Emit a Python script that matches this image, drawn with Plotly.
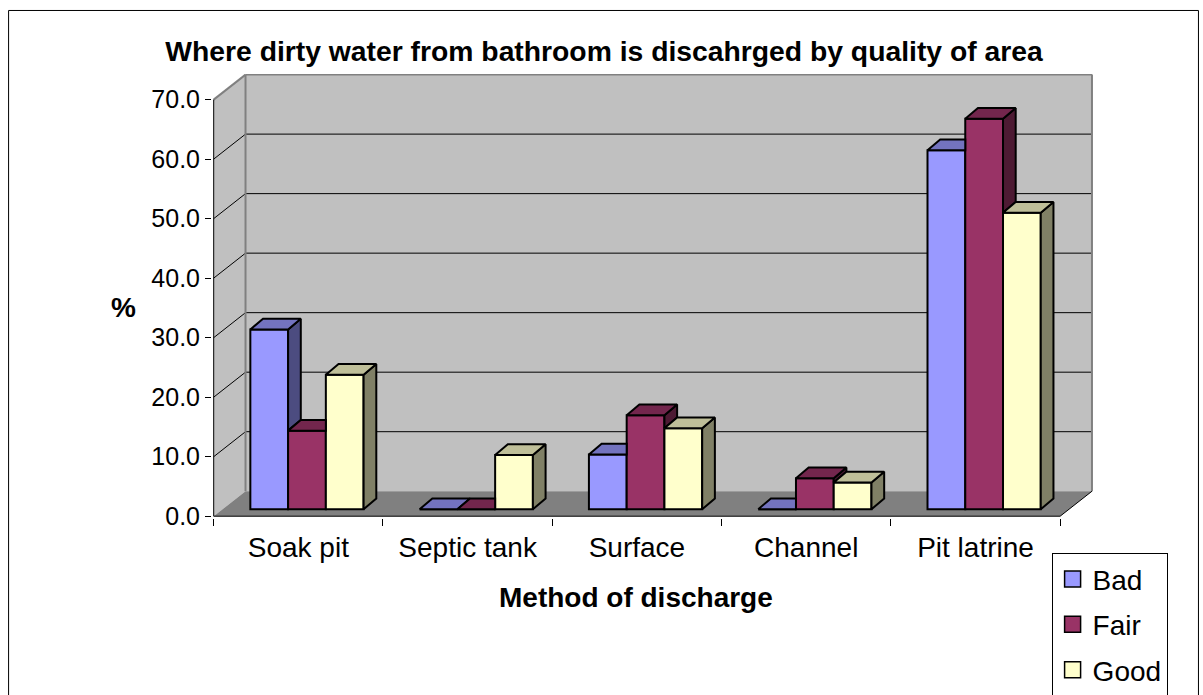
import plotly.graph_objects as go

# ---------------- data ----------------
categories = ["Soak pit", "Septic tank", "Surface", "Channel", "Pit latrine"]
series_names = ["Bad", "Fair", "Good"]
bad = [30.2, 0.0, 9.2, 0.0, 60.3]
fair = [13.2, 0.0, 15.8, 5.2, 65.6]
good = [22.6, 9.1, 13.6, 4.5, 49.8]
y_ticks = [0, 10, 20, 30, 40, 50, 60, 70]
y_tick_labels = ["0.0", "10.0", "20.0", "30.0", "40.0", "50.0", "60.0", "70.0"]

title_text = "Where dirty water from bathroom is discahrged by quality of area"
x_title = "Method of discharge"
y_title = "%"

# ---------------- style ----------------
FRONT = ["#9999FF", "#993366", "#FFFFCC"]
TOP = ["#7373BF", "#73264D", "#BFBF99"]
SIDE = ["#4C4C80", "#4D1A33", "#808066"]
WALL = "#C0C0C0"
FLOOR = "#808080"
EDGE = "#808080"
FONT = "Liberation Sans, Arial, sans-serif"

W, H = 1203, 695
X0, X1 = -0.51, 4.70
Y0, Y1 = -0.3, 74.3
PXX = 169.45          # px per category
PXY = 5.943           # px per percent
L = 213.3 - (-0.5 - X0) * PXX
plot_w = (X1 - X0) * PXX
R = W - L - plot_w
BOT = 516 + (0 - Y0) * PXY
plot_h = (Y1 - Y0) * PXY
B = H - BOT
T = BOT - plot_h

def px_x(p):
    return (p - L) / plot_w

def px_y(p):
    return (BOT - p) / plot_h

# depth of the 3D box (walls) and of the bars
DX, DY = 0.188, 4.2
BDX, BDY = 0.075, 1.8
F0X, F0Y = 0.051, 1.18
BW = 0.223

series = [bad, fair, good]
ncat = len(categories)
xl_edge, xr_edge = -0.5, ncat - 0.5
ymax = y_ticks[-1]

fig = go.Figure()

# front faces: real bars
for k, vals in enumerate(series):
    fig.add_trace(go.Bar(
        x=[i + F0X + (k - 1) * BW for i in range(ncat)],
        y=vals, base=F0Y, width=BW, name=series_names[k],
        marker=dict(color=FRONT[k], line=dict(color="black", width=2)),
        showlegend=False, hovertext=categories,
    ))

# top and side faces computed from the values
for k, vals in enumerate(series):
    tx, ty, sx, sy = [], [], [], []
    for i in range(ncat):
        h = vals[i]
        xc = i + F0X + (k - 1) * BW
        xl, xr = xc - BW / 2, xc + BW / 2
        b = F0Y
        t = b + h
        nxt = series[k + 1][i] if k < 2 else None
        if nxt is not None and b + nxt > t:
            tn = b + nxt
            if tn >= t + BDY:
                poly = [(xl, t), (xr, t), (xr, t + BDY), (xl + BDX, t + BDY)]
            else:
                s = (tn - t) / BDY
                poly = [(xl, t), (xr, t), (xr, tn), (xr + s * BDX, tn),
                        (xr + BDX, t + BDY), (xl + BDX, t + BDY)]
        else:
            poly = [(xl, t), (xr, t), (xr + BDX, t + BDY), (xl + BDX, t + BDY)]
        poly.append(poly[0])
        tx += [p[0] for p in poly] + [None]
        ty += [p[1] for p in poly] + [None]
        if nxt is None or nxt < h:
            sb = b + (nxt if nxt is not None else 0)
            side = [(xr, sb), (xr, t), (xr + BDX, t + BDY), (xr + BDX, sb + BDY), (xr, sb)]
            sx += [p[0] for p in side] + [None]
            sy += [p[1] for p in side] + [None]
    if sx:
        fig.add_trace(go.Scatter(x=sx, y=sy, mode="lines", fill="toself",
                                 fillcolor=SIDE[k], line=dict(color="black", width=2),
                                 showlegend=False, hoverinfo="skip"))
    fig.add_trace(go.Scatter(x=tx, y=ty, mode="lines", fill="toself",
                             fillcolor=TOP[k], line=dict(color="black", width=2),
                             showlegend=False, hoverinfo="skip"))

# legend entries
for k in range(3):
    fig.add_trace(go.Scatter(
        x=[None], y=[None], mode="markers", name=series_names[k],
        legendgroup=series_names[k],
        marker=dict(symbol="square", size=16, color=FRONT[k],
                    line=dict(color="black", width=1.5)),
    ))

# ---------------- 3D box as shapes ----------------
shapes = []
def poly_path(pts):
    return "M " + " L ".join(f"{x},{y}" for x, y in pts) + " Z"

shapes.append(dict(type="path", layer="below", xref="x", yref="y",
                   path=poly_path([(xl_edge, 0), (xl_edge, ymax), (xl_edge + DX, ymax + DY), (xl_edge + DX, DY)]),
                   fillcolor=WALL, line=dict(width=0)))
shapes.append(dict(type="rect", layer="below", xref="x", yref="y",
                   x0=xl_edge + DX, x1=xr_edge + DX, y0=DY, y1=ymax + DY,
                   fillcolor=WALL, line=dict(width=0)))
shapes.append(dict(type="path", layer="below", xref="x", yref="y",
                   path=poly_path([(xl_edge, 0), (xr_edge, 0), (xr_edge + DX, DY), (xl_edge + DX, DY)]),
                   fillcolor=FLOOR, line=dict(width=0)))
for v in y_ticks[1:-1]:
    shapes.append(dict(type="line", layer="below", xref="x", yref="y",
                       x0=xl_edge + DX, x1=xr_edge + DX, y0=v + DY, y1=v + DY,
                       line=dict(color="black", width=1)))
    shapes.append(dict(type="line", layer="below", xref="x", yref="y",
                       x0=xl_edge, x1=xl_edge + DX, y0=v, y1=v + DY,
                       line=dict(color="black", width=1)))
for (a, b_, c, d) in [(xl_edge, ymax, xl_edge + DX, ymax + DY),
                      (xl_edge + DX, ymax + DY, xr_edge + DX, ymax + DY),
                      (xl_edge + DX, DY, xl_edge + DX, ymax + DY),
                      (xr_edge + DX, DY, xr_edge + DX, ymax + DY)]:
    shapes.append(dict(type="line", layer="below", xref="x", yref="y",
                       x0=a, y0=b_, x1=c, y1=d, line=dict(color=EDGE, width=2)))
shapes.append(dict(type="line", layer="below", xref="x", yref="y",
                   x0=xr_edge, y0=0, x1=xr_edge + DX, y1=DY, line=dict(color="black", width=1)))
shapes.append(dict(type="line", layer="above", xref="x", yref="y",
                   x0=xl_edge, y0=0, x1=xl_edge, y1=ymax, line=dict(color="black", width=1)))
shapes.append(dict(type="line", layer="above", xref="x", yref="y",
                   x0=xl_edge, y0=0, x1=xr_edge, y1=0, line=dict(color="black", width=1)))
# chart border
shapes.append(dict(type="rect", xref="paper", yref="paper",
                   x0=px_x(8), x1=px_x(1199), y0=px_y(705), y1=px_y(11),
                   line=dict(color="black", width=1), fillcolor="rgba(0,0,0,0)"))

annotations = [
    dict(text="<b>" + y_title + "</b>", xref="paper", yref="paper",
         x=px_x(123), y=px_y(308), showarrow=False,
         font=dict(family=FONT, size=28, color="black"), xanchor="center", yanchor="middle"),
    dict(text="<b>" + x_title + "</b>", xref="paper", yref="paper",
         x=px_x(636), y=px_y(597), showarrow=False,
         font=dict(family=FONT, size=28, color="black"), xanchor="center", yanchor="middle"),
]

fig.update_layout(
    width=W, height=H,
    margin=dict(l=L, r=R, t=T, b=B, autoexpand=False),
    paper_bgcolor="white", plot_bgcolor="white",
    barmode="overlay",
    title=dict(text="<b>" + title_text + "</b>", x=604 / W, xref="container",
               y=1 - 51 / H, yref="container", xanchor="center", yanchor="middle",
               font=dict(family=FONT, size=28.3, color="black")),
    xaxis=dict(range=[X0, X1], tickvals=[i - 0.5 for i in range(ncat + 1)],
               showticklabels=False, ticks="outside", ticklen=7, tickcolor="black",
               showgrid=False, zeroline=False, showline=False, fixedrange=True),
    xaxis2=dict(range=[X0, X1], overlaying="x", anchor="y", side="bottom",
                tickvals=list(range(ncat)), ticktext=categories, ticks="",
                showgrid=False, zeroline=False, showline=False, ticklabelstandoff=10,
                tickfont=dict(family=FONT, size=28, color="black")),
    yaxis=dict(range=[Y0, Y1], tickvals=y_ticks, ticktext=y_tick_labels,
               ticks="outside", ticklen=6, tickcolor="black",
               tickfont=dict(family=FONT, size=25, color="black"),
               showgrid=False, zeroline=False, showline=False, fixedrange=True),
    shapes=shapes, annotations=annotations,
    legend=dict(x=px_x(1052), y=px_y(553), xanchor="left", yanchor="top",
                bgcolor="white", bordercolor="black", borderwidth=1,
                font=dict(family=FONT, size=28, color="black"),
                traceorder="grouped", tracegroupgap=6, itemwidth=30,
                entrywidth=95),
    showlegend=True,
)
# dummy trace so xaxis2 is drawn
fig.add_trace(go.Scatter(x=[None], y=[None], xaxis="x2", yaxis="y", showlegend=False))

fig.write_html("out.html")
